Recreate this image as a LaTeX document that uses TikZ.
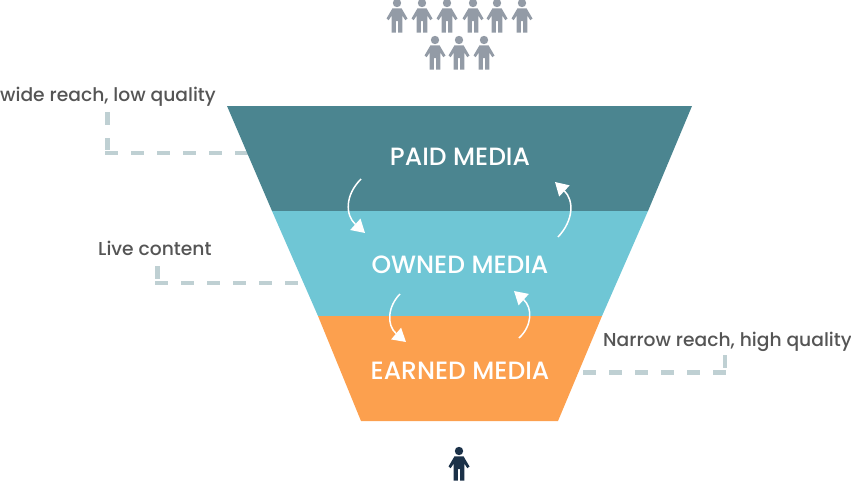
\documentclass[tikz,border=0pt]{standalone}
\usepackage{fontspec}
\setmainfont{Poppins}
\newfontfamily\medfont{Poppins Medium}
\usetikzlibrary{arrows.meta}
\definecolor{tealband}{HTML}{4B8590}
\definecolor{skyband}{HTML}{6FC6D5}
\definecolor{orangeband}{HTML}{FCA04E}
\definecolor{crowd}{HTML}{939BA6}
\definecolor{navyman}{HTML}{1B3148}
\definecolor{guide}{HTML}{BFD0D3}
\definecolor{labeltext}{HTML}{555555}
\tikzset{
  x=1pt,y=-1pt,
  bandlabel/.style={text=white,font=\medfont\fontsize{25}{30}\selectfont,inner sep=0pt,anchor=center},
  sidelabel/.style={text=labeltext,font=\medfont\fontsize{18.7}{22}\selectfont,inner sep=0pt,anchor=base west},
  guideline/.style={draw=guide,line width=4.5pt,dash pattern=on 13pt off 13pt},
  loop arrow/.style={draw=white,line width=1.5pt,-{Triangle[length=13pt,width=15pt,fill=white]}},
  pics/person/.style={code={
    \fill[#1] (0,0) circle[radius=4.2];
    \fill[#1] (-4.5,5.3) -- (4.5,5.3) -- (10.5,15.5) -- (8.3,17.2) -- (5.3,12.5) -- (5.3,29.5) -- (1.2,29.5) -- (1.2,18) -- (-1.2,18) -- (-1.2,29.5) -- (-5.3,29.5) -- (-5.3,12.5) -- (-8.3,17.2) -- (-10.5,15.5) -- cycle;
  }}
}
\begin{document}
\begin{tikzpicture}
\useasboundingbox (0,0) rectangle (851,480);
% crowd
\foreach \px in {397,422,447,473,497,522} \pic at (\px,3) {person=crowd};
\foreach \px in {435,459,484} \pic at (\px,40) {person=crowd};
\pic at (459,451) {person=navyman};
% dashed guides (under bands)
\coordinate (a1) at (107.5,112); \coordinate (a2) at (107.5,150);
\coordinate (a4) at (105,153); \coordinate (a3) at (250,153);
\coordinate (b1) at (157.5,266); \coordinate (b2) at (157.5,279);
\coordinate (b4) at (155,283); \coordinate (b3) at (302,283);
\coordinate (c1) at (583,372.5); \coordinate (c2) at (728,372.5);
\coordinate (c3) at (725,355); \coordinate (c4) at (725,368);
\draw[guideline] (a1) -- (a2);
\draw[guideline] (a4) -- (a3);
\draw[guideline] (b1) -- (b2);
\draw[guideline] (b4) -- (b3);
\draw[guideline] (c1) -- (c2);
\draw[guideline] (c3) -- (c4);
% funnel
\fill[tealband] (227,106) -- (692,106) -- (648,211) -- (272,211) -- cycle;
\fill[skyband] (272,211) -- (648,211) -- (602,316) -- (318,316) -- cycle;
\fill[orangeband] (318,316) -- (602,316) -- (558,421) -- (361,421) -- cycle;
\node[bandlabel] (paid) at (460,157) {PAID MEDIA};
\node[bandlabel] (owned) at (460,265) {OWNED MEDIA};
\node[bandlabel] (earned) at (460,371) {EARNED MEDIA};
% loop arrows
\coordinate (p1) at (361,179); \coordinate (p2) at (365,233);
\coordinate (q1) at (558,237); \coordinate (q2) at (555,182);
\coordinate (r1) at (400,294); \coordinate (r2) at (406,342);
\coordinate (s1) at (519,338); \coordinate (s2) at (514,291);
\draw[loop arrow] (p1) .. controls (345,195) and (345,215) .. (p2);
\draw[loop arrow] (q1) .. controls (574,220) and (574,200) .. (q2);
\draw[loop arrow] (r1) .. controls (388,306) and (386,325) .. (r2);
\draw[loop arrow] (s1) .. controls (532,326) and (533,308) .. (s2);
% side labels
\node[sidelabel] (wide) at (0,101) {wide reach, low quality};
\node[sidelabel] (live) at (98,255) {Live content};
\node[sidelabel] (narrow) at (603,346) {Narrow reach, high quality};
\end{tikzpicture}
\end{document}
